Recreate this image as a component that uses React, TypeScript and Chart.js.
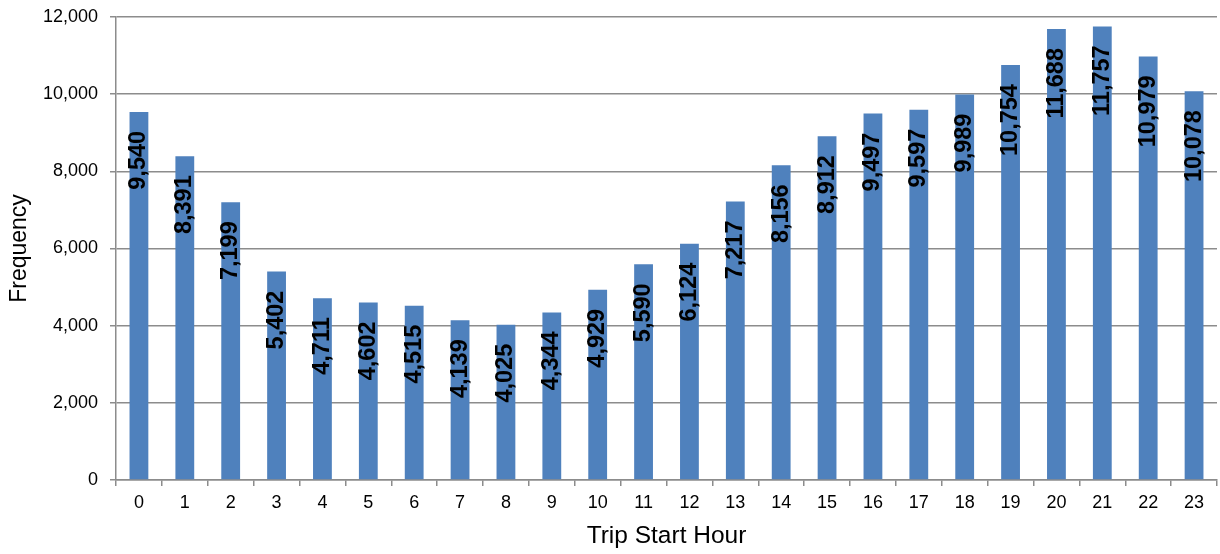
import React, { useEffect, useRef } from "react";
import { Chart, registerables } from "chart.js";

Chart.register(...registerables);

// Trip counts per start hour (0–23)
const hours: string[] = [
  "0", "1", "2", "3", "4", "5", "6", "7", "8", "9", "10", "11",
  "12", "13", "14", "15", "16", "17", "18", "19", "20", "21", "22", "23",
];
const frequency: number[] = [
  9540, 8391, 7199, 5402, 4711, 4602, 4515, 4139, 4025, 4344, 4929, 5590,
  6124, 7217, 8156, 8912, 9497, 9597, 9989, 10754, 11688, 11757, 10979, 10078,
];
const yMax = 12000;
const yStep = 2000;

const FONT = "'Liberation Sans', Arial, sans-serif";

// Rotated bold value labels placed just inside the top of each bar
const valueLabels = {
  id: "valueLabels",
  afterDatasetsDraw(chart: Chart) {
    const ctx = chart.ctx;
    const meta = chart.getDatasetMeta(0);
    const data = chart.data.datasets[0].data as number[];
    ctx.save();
    ctx.fillStyle = "#000000";
    ctx.font = `bold 23.5px ${FONT}`;
    ctx.textAlign = "right";
    ctx.textBaseline = "middle";
    meta.data.forEach((bar: any, i: number) => {
      const text = data[i].toLocaleString("en-US");
      ctx.save();
      ctx.translate(bar.x, bar.y + 19);
      ctx.rotate(-Math.PI / 2);
      ctx.fillText(text, 0, 0);
      ctx.restore();
    });
    ctx.restore();
  },
};

export default function App() {
  const canvasRef = useRef<HTMLCanvasElement | null>(null);

  useEffect(() => {
    if (!canvasRef.current) return;
    const chart = new Chart(canvasRef.current, {
      type: "bar",
      data: {
        labels: hours,
        datasets: [
          {
            label: "Frequency",
            data: frequency,
            backgroundColor: "#4F81BD",
            borderWidth: 0,
            barPercentage: 0.41,
            categoryPercentage: 1.0,
          },
        ],
      },
      options: {
        animation: false,
        responsive: false,
        devicePixelRatio: 1,
        layout: { padding: { top: 17, right: 3, bottom: 0, left: 0 } },
        plugins: {
          legend: { display: false },
          tooltip: { enabled: false },
        },
        scales: {
          x: {
            grid: {
              display: true,
              drawOnChartArea: false,
              drawTicks: true,
              tickLength: 6,
              color: "#8c8c8c",
              lineWidth: 1.5,
              offset: true,
            },
            border: { display: true, color: "#8c8c8c", width: 1.5 },
            ticks: {
              color: "#000000",
              font: { family: FONT, size: 18 },
              padding: 6,
              maxRotation: 0,
            },
            title: {
              display: true,
              text: "Trip Start Hour",
              color: "#000000",
              font: { family: FONT, size: 24.5 },
              padding: { top: 0, bottom: 3 },
            },
            afterFit(scale: any) {
              scale.height = 74;
              scale.paddingLeft = 0;
              scale.paddingRight = 0;
            },
          },
          y: {
            min: 0,
            max: yMax,
            grid: {
              color: "#8c8c8c",
              lineWidth: 1.5,
              tickLength: 6,
              drawTicks: true,
            },
            border: { display: true, color: "#8c8c8c", width: 1.5 },
            ticks: {
              stepSize: yStep,
              color: "#000000",
              font: { family: FONT, size: 18 },
              padding: 12,
              callback: (v: any) => Number(v).toLocaleString("en-US"),
            },
            title: {
              display: true,
              text: "Frequency",
              color: "#000000",
              font: { family: FONT, size: 23 },
              padding: { top: 6, bottom: 0 },
            },
            afterFit(scale: any) {
              scale.width = 116;
              scale.paddingTop = 0;
              scale.paddingBottom = 0;
            },
          },
        },
      },
      plugins: [valueLabels],
    });
    return () => chart.destroy();
  }, []);

  return (
    <div style={{ position: "fixed", left: 0, top: 0, width: 1220, height: 554, background: "#ffffff" }}>
      <canvas ref={canvasRef} width={1220} height={554} />
    </div>
  );
}
